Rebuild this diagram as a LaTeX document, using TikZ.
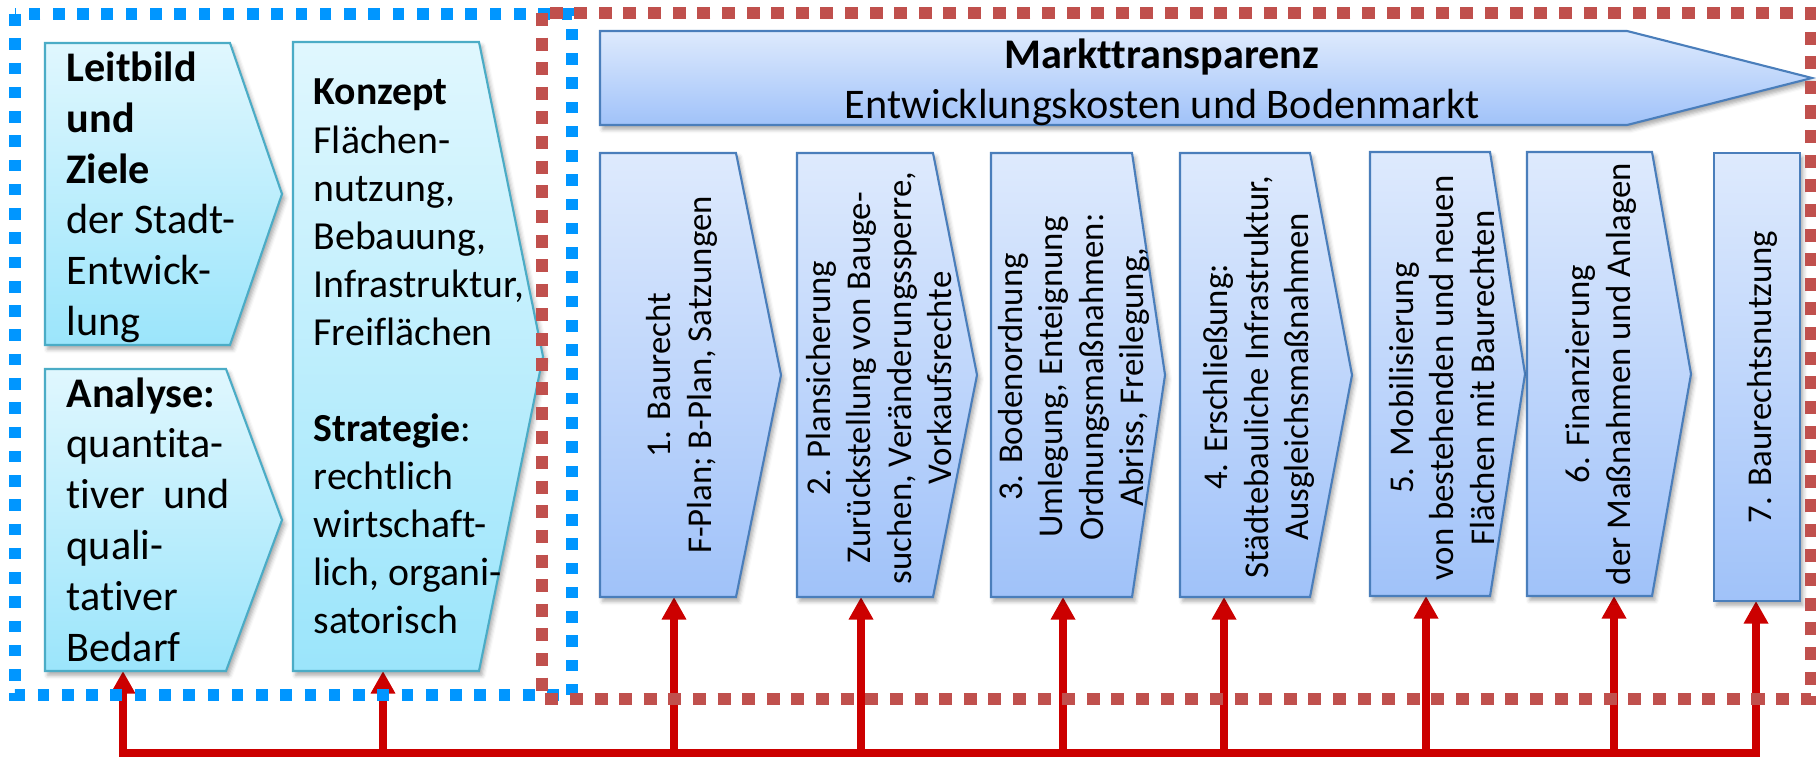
\documentclass[tikz,border=0pt]{standalone}
\usepackage{fontspec}
\setmainfont{Carlito}[Ligatures={NoCommon}]
\usetikzlibrary{arrows.meta,shadows.blur}

\definecolor{frameblue}{RGB}{0,150,255}
\definecolor{framered}{RGB}{192,80,77}
\definecolor{linkred}{RGB}{204,0,0}
\definecolor{vtop}{RGB}{222,234,253}
\definecolor{vbot}{RGB}{160,194,249}
\definecolor{vline}{RGB}{74,126,187}
\definecolor{ctop}{RGB}{224,247,254}
\definecolor{cbot}{RGB}{155,229,251}
\definecolor{cline}{RGB}{75,172,198}

\tikzset{
  softshadow/.style={blur shadow={shadow xshift=0.8pt, shadow yshift=-1.2pt,
      shadow blur radius=1.2pt, shadow opacity=35}},
  vstep/.style={draw=vline, line width=0.6pt, top color=vtop, bottom color=vbot, softshadow},
  cstep/.style={draw=cline, line width=0.6pt, top color=ctop, bottom color=cbot, softshadow},
  link/.style={draw=linkred, line width=2.3pt, -{Triangle[width=6.6pt,length=6.4pt]}},
  bus/.style={draw=linkred, line width=2.3pt, line cap=rect},
  bluefrm/.style={draw=frameblue, line width=3.3pt, dash pattern=on 3.3pt off 3.6pt},
  redfrm/.style={draw=framered, line width=3.2pt, dash pattern=on 3.7pt off 3.3pt},
  vtext/.style={rotate=90, align=center, inner sep=0pt, font=\fontsize{9.9}{11.5}\selectfont},
  ltext/.style={anchor=base west, inner sep=0pt},
}

% pentagon pointing right: style, left x, top y, body right x, tip x, bottom y
\newcommand\pentabox[6]{%
  \path[#1] (#2,#3) -- (#4,#3) -- (#5,{(#3+#6)/2}) -- (#4,#6) -- (#2,#6) -- cycle;}

\begin{document}
\begin{tikzpicture}[x=0.01cm,y=-0.01cm]
\useasboundingbox (0,0) rectangle (1816,758);

% feedback bus and its branches
\coordinate (j0) at (123,753);  \coordinate (t0) at (123,671);
\coordinate (j1) at (383,753);  \coordinate (t1) at (383,671);
\coordinate (j2) at (674,753);  \coordinate (t2) at (674,597);
\coordinate (j3) at (861,753);  \coordinate (t3) at (861,597);
\coordinate (j4) at (1063,753); \coordinate (t4) at (1063,597);
\coordinate (j5) at (1224,753); \coordinate (t5) at (1224,597);
\coordinate (j6) at (1426,753); \coordinate (t6) at (1426,596);
\coordinate (j7) at (1614,753); \coordinate (t7) at (1614,596);
\coordinate (j8) at (1756,753); \coordinate (t8) at (1756,601);

\draw[bus] (j0) -- (j8);
\draw[link] (j0) -- (t0);
\draw[link] (j1) -- (t1);
\draw[link] (j2) -- (t2);
\draw[link] (j3) -- (t3);
\draw[link] (j4) -- (t4);
\draw[link] (j5) -- (t5);
\draw[link] (j6) -- (t6);
\draw[link] (j7) -- (t7);
\draw[link] (j8) -- (t8);

% planning boxes
\pentabox{cstep}{45}{43}{230}{282}{345}
\pentabox{cstep}{45}{369}{226}{282}{671}
\pentabox{cstep}{293}{42}{479}{543}{671}

% market arrow
\pentabox{vstep}{600}{31}{1627}{1812}{125}

% implementation steps
\pentabox{vstep}{600}{153}{736}{781}{597}
\pentabox{vstep}{797}{153}{933}{977}{597}
\pentabox{vstep}{991}{153}{1132}{1165}{597}
\pentabox{vstep}{1180}{153}{1310}{1352}{597}
\pentabox{vstep}{1370}{152}{1490}{1525}{596}
\pentabox{vstep}{1527}{152}{1652}{1691}{596}
\path[vstep] (1714,153) rectangle (1800,601);

% texts of the planning boxes
\node[ltext] (leit) at (66,82) {\parbox[t]{3cm}{\fontsize{12}{14.4}\selectfont
  \textbf{Leitbild}\\ \textbf{und}\\ \textbf{Ziele}\\ der Stadt-\\ Entwick-\\ lung}};
\node[ltext] (anal) at (66,407) {\parbox[t]{3cm}{\fontsize{12}{14.5}\selectfont
  \textbf{Analyse:}\\ quantita-\\ \makebox[1.63cm][s]{tiver\hfill und}\\ quali-\\ tativer\\ Bedarf}};
\node[ltext] (konz) at (313,105) {\parbox[t]{3cm}{\fontsize{11.3}{13.66}\selectfont
  \textbf{Konzept}\\ Flächen-\\ nutzung,\\ Bebauung,\\ Infrastruktur,\\ Freiflächen\\[13.66pt]
  \textbf{Strategie}:\\ rechtlich\\ wirtschaft-\\ lich, organi-\\ satorisch}};

% market arrow text
\node[anchor=base, inner sep=0pt, font=\fontsize{12}{14.4}\selectfont\bfseries] (mt) at (1162,69) {Markttransparenz};
\node[anchor=base, inner sep=0pt, font=\fontsize{12}{14.4}\selectfont] (ek) at (1162,119) {Entwicklungskosten und Bodenmarkt};

% step texts
\node[vtext] (v1) at (682,375) {1. Baurecht\\F-Plan; B-Plan, Satzungen};
\node[vtext] (v2) at (879,378) {2. Plansicherung\\Zurückstellung von Bauge-\\suchen, Veränderungssperre,\\Vorkaufsrechte};
\node[vtext] (v3) at (1074,377) {3. Bodenordnung\\Umlegung, Enteignung\\Ordnungsmaßnahmen:\\Abriss, Freilegung,};
\node[vtext] (v4) at (1259,377) {4. Erschließung:\\Städtebauliche Infrastruktur,\\Ausgleichsmaßnahmen};
\node[vtext] (v5) at (1442,378) {5. Mobilisierung\\von bestehenden und neuen\\Flächen mit Baurechten};
\node[vtext] (v6) at (1601,374) {6. Finanzierung\\der Maßnahmen und Anlagen};
\node[vtext] (v7) at (1762,377) {7. Baurechtsnutzung};

% dotted frames
\draw[bluefrm] (15,14) rectangle (572,695);
\draw[redfrm] (542,13) rectangle (1811,699);
\end{tikzpicture}
\end{document}
